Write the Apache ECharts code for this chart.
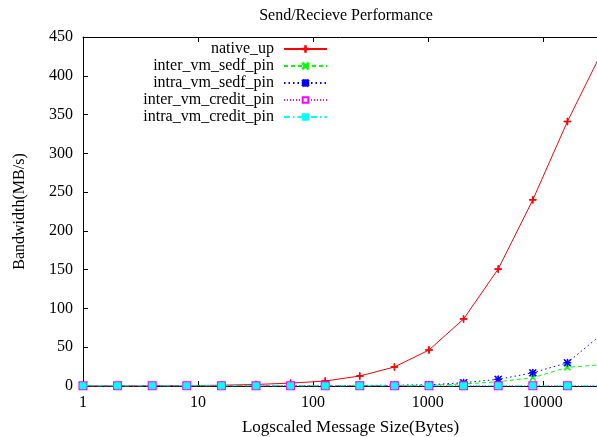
<!DOCTYPE html>
<html>
<head>
<meta charset="utf-8">
<script src="https://cdn.jsdelivr.net/npm/echarts@6/dist/echarts.min.js"></script>
<style>
  html, body { margin: 0; padding: 0; background: #fff; }
  #chart { width: 597px; height: 437px; }
</style>
</head>
<body>
<div id="chart"></div>
<script>
// message sizes in bytes (powers of two)
var sizes = [1, 2, 4, 8, 16, 32, 64, 128, 256, 512, 1024, 2048, 4096, 8192, 16384, 32768];

// bandwidth in MB/s
var nativeUp      = [0, 0, 0.3, 0.5, 1, 2, 3.7, 6.4, 12.9, 24.5, 46.4, 86.4, 150.8, 240, 341, 431];
var interSedfPin  = [0.3, 0.3, 0.3, 0.3, 0.3, 0.3, 0.3, 0.4, 0.5, 0.7, 1, 2.6, 5.5, 10.7, 24, 27.6];
var intraSedfPin  = [0.3, 0.3, 0.3, 0.3, 0.3, 0.3, 0.4, 0.5, 0.7, 1, 1.5, 4.3, 8.6, 17, 30, 67];
var interCreditPin = [0.2, 0.2, 0.2, 0.2, 0.2, 0.2, 0.2, 0.2, 0.2, 0.2, 0.2, 0.2, 0.2, 0.2, 0.2, 0.2];
var intraCreditPin = [0.2, 0.2, 0.2, 0.2, 0.2, 0.2, 0.2, 0.2, 0.2, 0.2, 0.2, 0.2, 0.2, 0.2, 0.2, 0.2];

var seriesNames = ['native_up', 'inter_vm_sedf_pin', 'intra_vm_sedf_pin', 'inter_vm_credit_pin', 'intra_vm_credit_pin'];

var FONT = '"Liberation Serif", "DejaVu Serif", serif';

// gnuplot-ish point shapes
var PLUS = 'path://M4.5,0H5.5V10H4.5Z M0,4.5H10V5.5H0Z';
var CROSS = 'path://M0,0.8L0.8,0L10,9.2L9.2,10Z M9.2,0L10,0.8L0.8,10L0,9.2Z';
var STAR = PLUS + ' ' + CROSS.replace('path://', '');

function pairs(vals) {
    return sizes.map(function (s, i) { return [s, vals[i]]; });
}

function lineSeries(name, vals, color, dash, symbol, symbolSize, z) {
    return {
        name: name,
        type: 'line',
        data: pairs(vals),
        symbol: symbol,
        symbolSize: symbolSize,
        showSymbol: true,
        z: z,
        lineStyle: { color: color, width: 1, type: dash },
        itemStyle: { color: color, borderColor: color, borderWidth: 1 },
        emphasis: { disabled: true },
        animation: false
    };
}

function legendRow(name, top) {
    return {
        data: [name],
        right: 269,
        top: top,
        padding: 0,
        orient: 'vertical',
        align: 'right',
        itemWidth: 43,
        itemHeight: 7,
        selectedMode: false,
        textStyle: { fontFamily: FONT, fontSize: 16, color: '#000', padding: [0, 5, 0, 0] }
    };
}

var chart = echarts.init(document.getElementById('chart'), null, { renderer: 'canvas' });

var option = {
    backgroundColor: '#fff',
    animation: false,
    title: {
        text: 'Send/Recieve Performance',
        left: 341,
        textAlign: 'center',
        top: 3,
        textStyle: { fontFamily: FONT, fontSize: 16, fontWeight: 'normal', color: '#000' }
    },
    legend: [
        legendRow(seriesNames[0], 41),
        legendRow(seriesNames[1], 58),
        legendRow(seriesNames[2], 75),
        legendRow(seriesNames[3], 92),
        legendRow(seriesNames[4], 109)
    ],
    grid: { left: 83, right: -5, top: 37, bottom: 51, outerBoundsMode: 'none', containLabel: false },
    xAxis: [{
        type: 'log',
        logBase: 10,
        min: 1,
        max: 32768,
        name: 'Logscaled Message Size(Bytes)',
        nameLocation: 'middle',
        nameGap: 33,
        nameTextStyle: { fontFamily: FONT, fontSize: 17, color: '#000', padding: [0, 0, 0, 16] },
        axisLine: { lineStyle: { color: '#000', width: 1 } },
        axisTick: { inside: true, length: 5, lineStyle: { color: '#000' } },
        axisLabel: {
            fontFamily: FONT, fontSize: 16, color: '#000', margin: 9, showMaxLabel: false,
            formatter: function (v) { return String(Math.round(v)); }
        },
        splitLine: { show: false }
    }, {
        type: 'log',
        logBase: 10,
        min: 1,
        max: 32768,
        position: 'top',
        axisLine: { lineStyle: { color: '#000', width: 1 } },
        axisTick: { inside: true, length: 5, lineStyle: { color: '#000' } },
        axisLabel: { show: false },
        splitLine: { show: false }
    }],
    yAxis: {
        type: 'value',
        min: 0,
        max: 450,
        interval: 50,
        name: 'Bandwidth(MB/s)',
        nameLocation: 'middle',
        nameGap: 55,
        nameTextStyle: { fontFamily: FONT, fontSize: 16, color: '#000' },
        axisLine: { show: true, lineStyle: { color: '#000', width: 1 } },
        axisTick: { show: true, inside: true, length: 5, lineStyle: { color: '#000' } },
        axisLabel: { fontFamily: FONT, fontSize: 16, color: '#000', margin: 10 },
        splitLine: { show: false }
    },
    series: [
        lineSeries(seriesNames[0], nativeUp, '#ff0000', 'solid', PLUS, 7, 2),
        lineSeries(seriesNames[1], interSedfPin, '#00ff00', [4, 3], CROSS, 6, 3),
        lineSeries(seriesNames[2], intraSedfPin, '#0000ff', [1.5, 3], STAR, 7, 4),
        lineSeries(seriesNames[3], interCreditPin, '#ff00ff', [1, 2], 'emptyRect', 7, 5),
        lineSeries(seriesNames[4], intraCreditPin, '#00ffff', [6, 3, 1.5, 3], 'rect', 6, 6)
    ]
};

chart.setOption(option);
</script>
</body>
</html>
